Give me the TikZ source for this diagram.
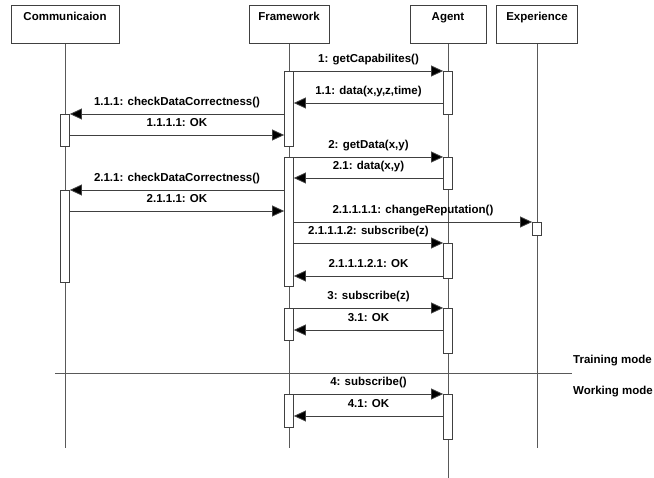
\documentclass[tikz,border=0pt]{standalone}
\usepackage{fontspec}
\setmainfont{Liberation Sans}
\usetikzlibrary{arrows.meta}

\begin{document}
\begin{tikzpicture}[x=1pt,y=-1pt,
  every node/.style={font=\fontsize{11.5}{13}\selectfont\bfseries},
  head/.style={draw=black!75,line width=0.8pt,anchor=north,inner sep=4pt,text height=11pt,text depth=19pt},
  life/.style={draw=black!65,line width=0.8pt},
  bar/.style={draw=black!75,fill=white,line width=0.8pt,anchor=north,minimum width=9pt,inner sep=0pt},
  msg/.style={draw=black!75,line width=0.8pt,-{Triangle[length=12pt,width=11pt,fill=black]}},
  lbl/.style={midway,above=4pt,inner sep=1.5pt,text height=8.5pt,text depth=2.5pt}]

  \useasboundingbox (0,0) rectangle (654,478);

  \node [head,minimum width=108pt] (com) at (65,5) {Communicaion};
  \node [head,minimum width=80pt] (fw) at (289,5) {Framework};
  \node [head,minimum width=76pt] (ag) at (448,5) {Agent};
  \node [head,minimum width=81pt] (ex) at (537,5) {Experience};

  % lifelines and mode split
  \coordinate (stop) at (0,448);
  \coordinate (bottom) at (0,478);
  \draw [life] (com.south) -- (com.south |- stop);
  \draw [life] (fw.south) -- (fw.south |- stop);
  \draw [life] (ag.south) -- (ag.south |- bottom);
  \draw [life] (ex.south) -- (ex.south |- stop);

  \coordinate (divL) at (55,373);
  \coordinate (divR) at (572,373);
  \draw [life] (divL) -- (divR);
  \node [anchor=west,inner sep=1pt] (train) at (572,361) {Training mode};
  \node [anchor=west,inner sep=1pt] (work) at (572,392) {Working mode};

  % activation bars
  \node [bar,minimum height=75pt] (fwA) at (289,71) {};
  \node [bar,minimum height=129pt] (fwB) at (289,157) {};
  \node [bar,minimum height=32pt] (fwC) at (289,308) {};
  \node [bar,minimum height=33pt] (fwD) at (289,394) {};
  \node [bar,minimum height=32pt] (coA) at (65,114) {};
  \node [bar,minimum height=92pt] (coB) at (65,190) {};
  \node [bar,minimum height=43pt] (agA) at (448,71) {};
  \node [bar,minimum height=32pt] (agB) at (448,157) {};
  \node [bar,minimum height=35pt] (agC) at (448,243) {};
  \node [bar,minimum height=45pt] (agD) at (448,308) {};
  \node [bar,minimum height=45pt] (agE) at (448,394) {};
  \node [bar,minimum height=13pt] (exA) at (537,222) {};

  % messages
  \coordinate (r11) at (0,103);
  \coordinate (r1111) at (0,135);
  \coordinate (r21) at (0,178);
  \coordinate (r2111) at (0,211);
  \coordinate (r211121) at (0,276);
  \coordinate (r31) at (0,330);
  \coordinate (r41) at (0,416);

  \draw [msg] (fwA.north east) -- (agA.north west) node [lbl] {1: getCapabilites()};
  \draw [msg] (agA.west |- r11) -- (fwA.east |- r11) node [lbl] {1.1: data(x,y,z,time)};
  \draw [msg] (fwA.west |- coA.north) -- (coA.north east) node [lbl] {1.1.1: checkDataCorrectness()};
  \draw [msg] (coA.east |- r1111) -- (fwA.west |- r1111) node [lbl] {1.1.1.1: OK};
  \draw [msg] (fwB.north east) -- (agB.north west) node [lbl] {2: getData(x,y)};
  \draw [msg] (agB.west |- r21) -- (fwB.east |- r21) node [lbl] {2.1: data(x,y)};
  \draw [msg] (fwB.west |- coB.north) -- (coB.north east) node [lbl] {2.1.1: checkDataCorrectness()};
  \draw [msg] (coB.east |- r2111) -- (fwB.west |- r2111) node [lbl] {2.1.1.1: OK};
  \draw [msg] (fwB.east |- exA.north) -- (exA.north west) node [lbl] {2.1.1.1.1: changeReputation()};
  \draw [msg] (fwB.east |- agC.north) -- (agC.north west) node [lbl] {2.1.1.1.2: subscribe(z)};
  \draw [msg] (agC.west |- r211121) -- (fwB.east |- r211121) node [lbl] {2.1.1.1.2.1: OK};
  \draw [msg] (fwC.north east) -- (agD.north west) node [lbl] {3: subscribe(z)};
  \draw [msg] (agD.west |- r31) -- (fwC.east |- r31) node [lbl] {3.1: OK};
  \draw [msg] (fwD.north east) -- (agE.north west) node [lbl] {4: subscribe()};
  \draw [msg] (agE.west |- r41) -- (fwD.east |- r41) node [lbl] {4.1: OK};

\end{tikzpicture}
\end{document}
